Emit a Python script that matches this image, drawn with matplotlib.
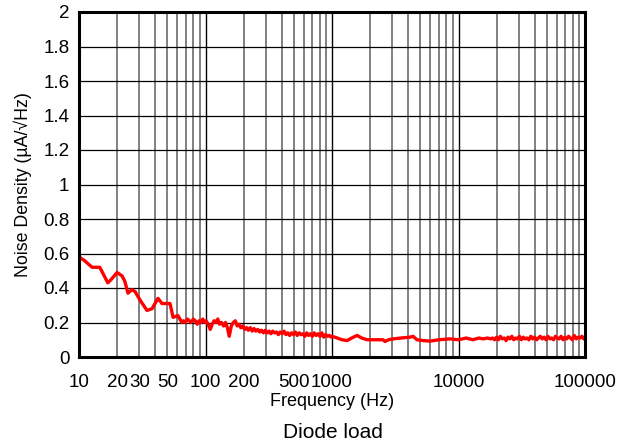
import numpy as np
import matplotlib as mpl
import matplotlib.pyplot as plt
from matplotlib.ticker import FixedLocator, NullLocator

plt.rcParams['font.family'] = ['Liberation Sans', 'DejaVu Sans']

# frequency (Hz) and noise density (uA/rtHz)
freq_low = [10.0, 11.0, 12.7, 14.6, 16.9, 18.0, 20.0, 21.9, 23.0, 24.4, 26.2, 27.7,
            31.0, 34.5, 37.8, 42.1, 45.3, 52.4, 55.4, 60.6]
noise_low = [0.58, 0.56, 0.52, 0.52, 0.43, 0.45, 0.49, 0.47, 0.44, 0.37, 0.39, 0.38,
             0.32, 0.27, 0.28, 0.34, 0.31, 0.31, 0.23, 0.24]

freq_mid = [65, 67, 69.5, 72, 74.5, 77, 80, 83, 86, 89,
            92, 95, 98, 101, 105, 109, 113, 117, 121, 125,
            129, 134, 139, 144, 149, 154, 160, 166, 172, 178,
            184, 190, 197, 204, 211, 218, 226, 234, 242, 250,
            259, 268, 277, 287, 297, 307, 318, 329, 340, 352,
            364, 377, 390, 404, 418, 432, 447, 463, 479, 496,
            513, 531, 550, 569, 589, 610, 631, 653, 676, 700,
            724, 750, 776, 803, 831, 860, 890, 921, 953, 986]
noise_mid = [0.20, 0.21, 0.20, 0.22, 0.21, 0.20, 0.22, 0.21, 0.19, 0.21,
             0.20, 0.22, 0.20, 0.21, 0.19, 0.16, 0.19, 0.21, 0.20, 0.22,
             0.19, 0.20, 0.18, 0.20, 0.17, 0.12, 0.18, 0.20, 0.21, 0.18,
             0.19, 0.17, 0.18, 0.16, 0.17, 0.155, 0.17, 0.15, 0.165, 0.15,
             0.16, 0.145, 0.155, 0.14, 0.155, 0.14, 0.15, 0.135, 0.15, 0.14,
             0.145, 0.13, 0.145, 0.135, 0.15, 0.13, 0.14, 0.125, 0.14, 0.13,
             0.145, 0.125, 0.14, 0.13, 0.135, 0.12, 0.14, 0.125, 0.135, 0.12,
             0.14, 0.125, 0.135, 0.12, 0.14, 0.115, 0.13, 0.12, 0.125, 0.115]

freq_smooth = [1000, 1100, 1200, 1315, 1430, 1577, 1720, 1893, 2200, 2530, 2620, 2800,
               3035, 3500, 4140, 4370, 4700, 5300, 5960, 7000, 8570, 10000, 11500,
               13000, 14500, 15630, 17000]
noise_smooth = [0.12, 0.11, 0.10, 0.095, 0.11, 0.125, 0.11, 0.10, 0.10, 0.10, 0.09, 0.10,
                0.105, 0.11, 0.115, 0.12, 0.10, 0.095, 0.092, 0.10, 0.105, 0.10, 0.11,
                0.10, 0.11, 0.105, 0.11]

freq_high = [18000, 18600, 19300, 20000, 20700, 21400, 22200, 23000, 23800, 24600,
             25500, 26400, 27300, 28300, 29300, 30300, 31400, 32500, 33600, 34800,
             36000, 37300, 38600, 40000, 41400, 42800, 44300, 45900, 47500, 49200,
             50900, 52700, 54500, 56400, 58400, 60400, 62500, 64700, 67000, 69300,
             71700, 74200, 76800, 79500, 82300, 85200, 88200, 91300, 94500, 97800, 100000]
noise_high = [0.105, 0.11, 0.10, 0.115, 0.10, 0.12, 0.105, 0.11, 0.095, 0.115,
              0.105, 0.12, 0.10, 0.11, 0.105, 0.12, 0.10, 0.115, 0.105, 0.11,
              0.10, 0.12, 0.105, 0.115, 0.10, 0.11, 0.12, 0.105, 0.115, 0.10,
              0.12, 0.105, 0.11, 0.10, 0.12, 0.11, 0.105, 0.12, 0.10, 0.115,
              0.105, 0.12, 0.11, 0.10, 0.125, 0.105, 0.115, 0.11, 0.12, 0.105, 0.115]

freqs = freq_low + freq_mid + freq_smooth + freq_high
noise = noise_low + noise_mid + noise_smooth + noise_high

x_ticks = [10, 20, 30, 50, 100, 200, 500, 1000, 10000, 100000]
y_ticks = [0, 0.2, 0.4, 0.6, 0.8, 1, 1.2, 1.4, 1.6, 1.8, 2]
y_labels = ['0', '0.2', '0.4', '0.6', '0.8', '1', '1.2', '1.4', '1.6', '1.8', '2']

fig = plt.figure(figsize=(6.29, 4.45), dpi=100)
ax = fig.add_axes([79/629, 1 - 357/445, (585 - 79)/629, (357 - 12)/445])

ax.set_xscale('log')
ax.set_xlim(10, 100000)
ax.set_ylim(0, 2)

# grid: decade lines black, the rest gray
for dec in [10, 100, 1000, 10000]:
    for m in range(2, 10):
        ax.axvline(dec*m, color='#808080', lw=1.4, zorder=1)
    if dec > 10:
        ax.axvline(dec, color='black', lw=1.0, zorder=1)
for y in y_ticks[1:-1]:
    ax.axhline(y, color='black', lw=0.9, zorder=1)

ax.plot(freqs, noise, color='#ff0000', lw=2.4, zorder=3)

ax.xaxis.set_major_locator(FixedLocator(x_ticks))
ax.xaxis.set_minor_locator(NullLocator())
ax.set_xticklabels([str(t) for t in x_ticks])
ax.set_yticks(y_ticks)
ax.set_yticklabels(y_labels)
ax.tick_params(axis='both', length=0, labelsize=13.5)
ax.tick_params(axis='x', pad=12)
ax.tick_params(axis='y', pad=7)

for s in ax.spines.values():
    s.set_linewidth(2.2)
    s.set_zorder(4)

ax.set_xlabel('Frequency (Hz)', fontsize=13, labelpad=2)
ax.set_ylabel('Noise Density (\u00b5A/\u221aHz)', fontsize=12.8, labelpad=8)
fig.text(333/629, 1 - 432/445, 'Diode load', fontsize=15, ha='center', va='center')

fig.savefig('out.png', dpi=100)
